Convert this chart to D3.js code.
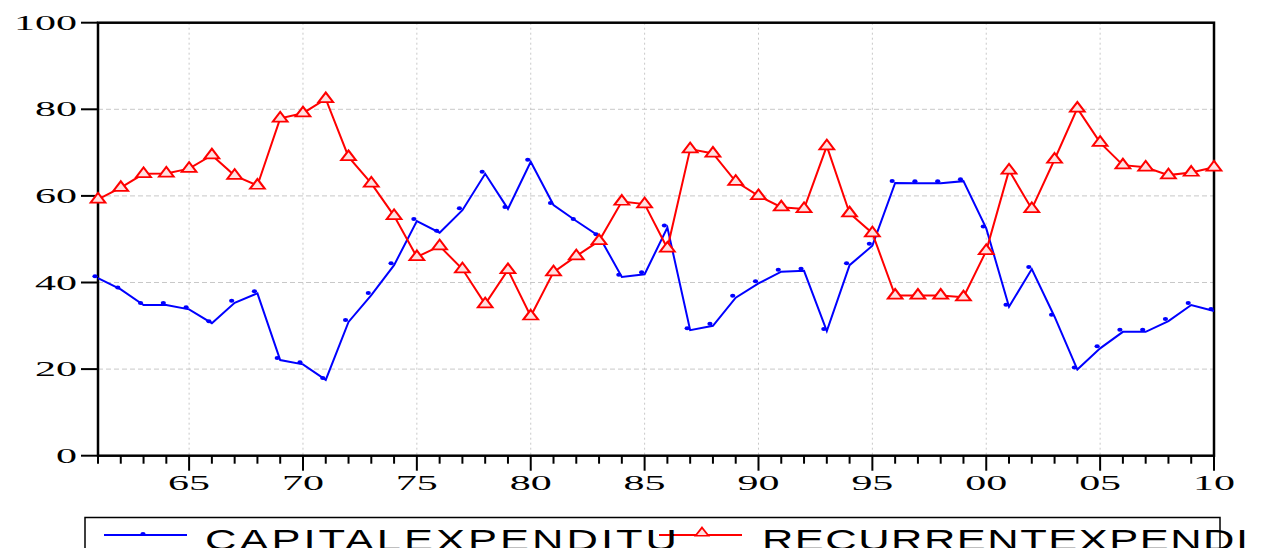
<!DOCTYPE html>
<html>
<head>
<meta charset="utf-8">
<script src="https://cdn.jsdelivr.net/npm/d3@7"></script>
<style>
  body { margin: 0; background: #fff; }
  svg { display: block; }
</style>
</head>
<body>
<div id="chart-area"></div>
<script>
// data (share of total expenditure, %)
var years = d3.range(1961, 2011);
var capital = [41.0, 38.4, 34.8, 34.8, 33.8, 30.6, 35.3, 37.5, 22.1, 21.1,
  17.5, 30.9, 37.1, 44.0, 54.2, 51.5, 56.7, 65.1, 57.0, 67.9,
  57.9, 54.2, 50.7, 41.3, 41.9, 52.7, 29.0, 30.0, 36.5, 39.8,
  42.5, 42.7, 28.8, 44.0, 48.5, 63.0, 62.9, 62.9, 63.4, 52.5,
  34.4, 43.1, 32.1, 19.9, 24.8, 28.6, 28.6, 31.1, 34.8, 33.4];
var recurrent = [59.2, 61.9, 65.1, 65.2, 66.3, 69.4, 64.7, 62.4, 77.9, 79.1,
  82.4, 69.0, 62.9, 55.4, 45.9, 48.4, 43.1, 35.0, 42.9, 32.2,
  42.4, 46.1, 49.6, 58.7, 58.1, 47.9, 70.8, 69.8, 63.3, 60.0,
  57.4, 57.0, 71.5, 56.0, 51.4, 37.0, 37.0, 37.0, 36.6, 47.3,
  65.9, 57.0, 68.4, 80.2, 72.3, 67.1, 66.6, 64.8, 65.4, 66.6];
var yTicks = [0, 20, 40, 60, 80, 100];
var xMajor = [1965, 1970, 1975, 1980, 1985, 1990, 1995, 2000, 2005, 2010];
var legendLabels = ['CAPITALEXPENDITU', 'RECURRENTEXPENDI'];

var width = 1262, height = 548;
var plotLeft = 98, plotRight = 1214, plotTop = 22.7, plotBottom = 455.7;

var svg = d3.select('#chart-area').append('svg')
  .attr('width', width)
  .attr('height', height);

var x = d3.scaleLinear().domain([1961, 2010]).range([plotLeft, plotRight]);
var y = d3.scaleLinear().domain([0, 100]).range([plotBottom, plotTop]);

// grid
svg.append('g').selectAll('line')
  .data(yTicks.filter(d => d > 0 && d < 100))
  .join('line')
  .attr('x1', plotLeft).attr('x2', plotRight)
  .attr('y1', d => y(d)).attr('y2', d => y(d))
  .attr('stroke', '#c8c8c8').attr('stroke-width', 1)
  .attr('stroke-dasharray', '5,3');
svg.append('g').selectAll('line')
  .data(xMajor.filter(d => d < 2010))
  .join('line')
  .attr('x1', d => x(d)).attr('x2', d => x(d))
  .attr('y1', plotTop).attr('y2', plotBottom)
  .attr('stroke', '#c8c8c8').attr('stroke-width', 1)
  .attr('stroke-dasharray', '2,3');

// frame
svg.append('rect')
  .attr('x', plotLeft).attr('y', plotTop)
  .attr('width', plotRight - plotLeft).attr('height', plotBottom - plotTop)
  .attr('fill', 'none').attr('stroke', '#000').attr('stroke-width', 2.5);

// y ticks + labels
var yAxis = svg.append('g');
yAxis.selectAll('line')
  .data(yTicks)
  .join('line')
  .attr('x1', 81).attr('x2', plotLeft)
  .attr('y1', d => y(d)).attr('y2', d => y(d))
  .attr('stroke', '#000').attr('stroke-width', 2);
yAxis.selectAll('text')
  .data(yTicks)
  .join('text')
  .attr('transform', d => 'translate(77,' + (y(d) + 7) + ') scale(2,1)')
  .attr('text-anchor', 'end')
  .attr('font-family', 'Liberation Serif')
  .attr('font-size', 21)
  .text(d => d);

// x ticks + labels
var xAxis = svg.append('g');
xAxis.selectAll('line')
  .data(years)
  .join('line')
  .attr('x1', d => x(d)).attr('x2', d => x(d))
  .attr('y1', plotBottom)
  .attr('y2', d => d % 5 == 0 ? plotBottom + 15 : plotBottom + 8)
  .attr('stroke', '#000').attr('stroke-width', 2);
xAxis.selectAll('text')
  .data(xMajor)
  .join('text')
  .attr('transform', d => 'translate(' + x(d) + ',490) scale(2,1)')
  .attr('text-anchor', 'middle')
  .attr('font-family', 'Liberation Serif')
  .attr('font-size', 21)
  .text(d => String(d).slice(2));

// lines
var line = d3.line()
  .x((d, i) => x(years[i]))
  .y(d => y(d));

svg.append('path')
  .attr('fill', 'none')
  .attr('stroke', '#0000ff')
  .attr('stroke-width', 2)
  .attr('d', line(capital));
svg.append('path')
  .attr('fill', 'none')
  .attr('stroke', '#ff0000')
  .attr('stroke-width', 2)
  .attr('d', line(recurrent));

// markers (dots sit a little up-left of the vertex, like the original)
svg.append('g').selectAll('ellipse')
  .data(capital)
  .join('ellipse')
  .attr('cx', (d, i) => x(years[i]) - 3)
  .attr('cy', d => y(d) - 2)
  .attr('rx', 2.6).attr('ry', 2)
  .attr('fill', '#0000ff');

var tri = d3.symbol().type(d3.symbolTriangle).size(60);
svg.append('g').selectAll('path')
  .data(recurrent)
  .join('path')
  .attr('transform', (d, i) => 'translate(' + x(years[i]) + ',' + y(d) + ') scale(1.25,0.95)')
  .attr('d', tri)
  .attr('fill', '#ffe0e0')
  .attr('stroke', '#ff0000')
  .attr('stroke-width', 1.8);

// legend
var legend = svg.append('g');
legend.append('rect')
  .attr('x', 85).attr('y', 517.5)
  .attr('width', 1220 - 85).attr('height', 60)
  .attr('fill', 'none').attr('stroke', '#000').attr('stroke-width', 1.5);

legend.append('line')
  .attr('x1', 104).attr('x2', 187).attr('y1', 535).attr('y2', 535)
  .attr('stroke', '#0000ff').attr('stroke-width', 2);
legend.append('ellipse')
  .attr('cx', 143).attr('cy', 534).attr('rx', 2.6).attr('ry', 2)
  .attr('fill', '#0000ff');

legend.append('line')
  .attr('x1', 659).attr('x2', 742).attr('y1', 535).attr('y2', 535)
  .attr('stroke', '#ff0000').attr('stroke-width', 2);
legend.append('path')
  .attr('transform', 'translate(702,533) scale(1.1,0.8)')
  .attr('d', tri)
  .attr('fill', '#ffe0e0')
  .attr('stroke', '#ff0000')
  .attr('stroke-width', 1.8);

var legendPos = [[205, 472], [762, 486]];
legend.selectAll('text')
  .data(legendLabels)
  .join('text')
  .attr('transform', (d, i) => 'translate(' + legendPos[i][0] + ',550) scale(1.45,1)')
  .attr('font-family', 'Liberation Sans')
  .attr('font-size', 30)
  .attr('textLength', (d, i) => legendPos[i][1] / 1.45)
  .attr('lengthAdjust', 'spacing')
  .text(d => d);
</script>
</body>
</html>
